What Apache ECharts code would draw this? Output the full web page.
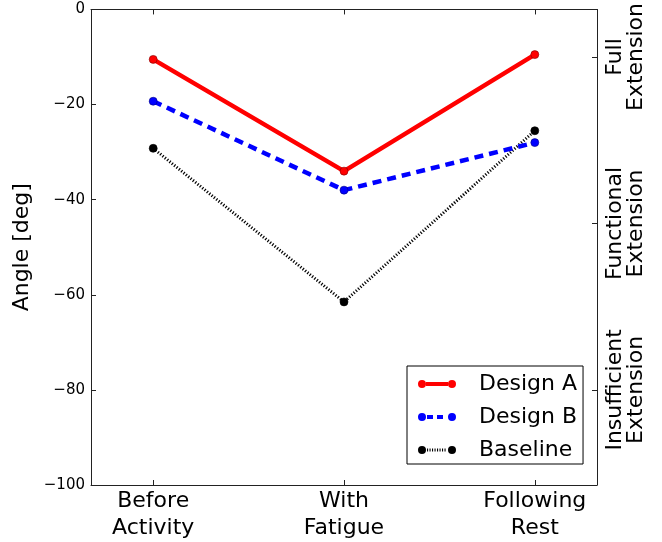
<!DOCTYPE html>
<html>
<head>
<meta charset="utf-8">
<script src="https://cdn.jsdelivr.net/npm/echarts@6/dist/echarts.min.js"></script>
<style>
html,body{margin:0;padding:0;background:#fff;}
#chart{width:662px;height:542px;}
</style>
</head>
<body>
<div id="chart"></div>
<script>
const categories = ['Before\nActivity', 'With\nFatigue', 'Following\nRest'];
const designA = [-10.5, -34, -9.5];
const designB = [-19.3, -38, -28];
const baseline = [-29.2, -61.5, -25.5];
const zoneTicks = [-10, -45, -80];
const zoneLabels = ['Full\nExtension', 'Functional\nExtension', 'Insufficient\nExtension'];
const yTicks = [0, -20, -40, -60, -80, -100];

const FONT = 'DejaVu Sans';
const toPairs = arr => arr.map((v, i) => [i, v]);

const iconA = 'path://M0,4a4,4 0 1,0 8,0a4,4 0 1,0 -8,0Z M8,2L30,2L30,6L8,6Z M30,4a4,4 0 1,0 8,0a4,4 0 1,0 -8,0Z';
const iconB = 'path://M0,4a4,4 0 1,0 8,0a4,4 0 1,0 -8,0Z M9,2L15,2L15,6L9,6Z M19,2L25,2L25,6L19,6Z M30,4a4,4 0 1,0 8,0a4,4 0 1,0 -8,0Z';
let dots = '';
for (let x = 9; x < 29; x += 2.5) { dots += ' M' + x + ',2.5L' + (x + 1.1) + ',2.5L' + (x + 1.1) + ',5.5L' + x + ',5.5Z'; }
const iconC = 'path://M0,4a4,4 0 1,0 8,0a4,4 0 1,0 -8,0Z' + dots + ' M30,4a4,4 0 1,0 8,0a4,4 0 1,0 -8,0Z';

const axisLineStyle = { color: '#222', width: 1 };
const minus = s => String(s).replace('-', '\u2212');

const chart = echarts.init(document.getElementById('chart'));
chart.setOption({
  animation: false,
  backgroundColor: '#fff',
  textStyle: { fontFamily: FONT },
  grid: { left: 91, right: 65, top: 9, bottom: 57, containLabel: false },
  xAxis: [{
    type: 'value', min: -0.326, max: 2.326, position: 'bottom',
    axisLine: { show: true, onZero: false, lineStyle: axisLineStyle },
    axisTick: { show: true, inside: true, length: 5, customValues: [0, 1, 2], lineStyle: axisLineStyle },
    axisLabel: {
      show: true, customValues: [0, 1, 2], margin: 3,
      formatter: v => categories[Math.round(v)],
      fontFamily: FONT, fontSize: 22, lineHeight: 27, color: '#000'
    },
    splitLine: { show: false }
  }, {
    type: 'value', min: -0.326, max: 2.326, position: 'top',
    axisLine: { show: true, onZero: false, lineStyle: axisLineStyle },
    axisTick: { show: true, inside: true, length: 5, customValues: [0, 1, 2], lineStyle: axisLineStyle },
    axisLabel: { show: false },
    splitLine: { show: false }
  }],
  yAxis: [{
    type: 'value', min: -100, max: 0, interval: 20, position: 'left',
    name: 'Angle [deg]', nameLocation: 'middle', nameGap: 50,
    nameTextStyle: { fontFamily: FONT, fontSize: 22, color: '#000' },
    axisLine: { show: true, onZero: false, lineStyle: axisLineStyle },
    axisTick: { show: true, inside: true, length: 5, lineStyle: axisLineStyle },
    axisLabel: { fontFamily: FONT, fontSize: 15, color: '#000', margin: 6, formatter: v => minus(v) },
    splitLine: { show: false }
  }, {
    type: 'value', min: -100, max: 0, position: 'right',
    axisLine: { show: true, onZero: false, lineStyle: axisLineStyle },
    axisTick: { show: true, inside: true, length: 5, customValues: zoneTicks, lineStyle: axisLineStyle },
    axisLabel: {
      customValues: zoneTicks, rotate: 90, margin: 8,
      formatter: v => zoneLabels[zoneTicks.indexOf(Math.round(v))] || '',
      fontFamily: FONT, fontSize: 22, lineHeight: 21, color: '#000'
    },
    splitLine: { show: false }
  }],
  legend: {
    orient: 'vertical', left: 407, top: 366,
    backgroundColor: '#fff', borderColor: '#000', borderWidth: 1, borderRadius: 0,
    padding: [6, 6, 2, 11], itemGap: 9, itemWidth: 38, itemHeight: 8,
    textStyle: { fontFamily: FONT, fontSize: 22, color: '#000', lineHeight: 24, padding: [0, 0, 0, 18] },
    itemStyle: { borderWidth: 0 },
    data: [
      { name: 'Design A', icon: iconA },
      { name: 'Design B', icon: iconB },
      { name: 'Baseline', icon: iconC }
    ]
  },
  series: [{
    name: 'Design A', type: 'line', data: toPairs(designA),
    symbol: 'circle', symbolSize: 8, z: 5,
    lineStyle: { color: '#ff0000', width: 4.5, type: 'solid' },
    itemStyle: { color: '#ff0000', borderColor: '#800000', borderWidth: 0.6 }
  }, {
    name: 'Design B', type: 'line', data: toPairs(designB),
    symbol: 'circle', symbolSize: 8, z: 4,
    lineStyle: { color: '#0000ff', width: 4.5, type: [9, 6] },
    itemStyle: { color: '#0000ff', borderColor: '#000080', borderWidth: 0.6 }
  }, {
    name: 'Baseline', type: 'line', data: toPairs(baseline),
    symbol: 'circle', symbolSize: 8, z: 3,
    lineStyle: { color: '#000000', width: 3, type: [1.2, 1.8] },
    itemStyle: { color: '#000000', borderColor: '#000', borderWidth: 0.6 }
  }]
});
</script>
</body>
</html>
